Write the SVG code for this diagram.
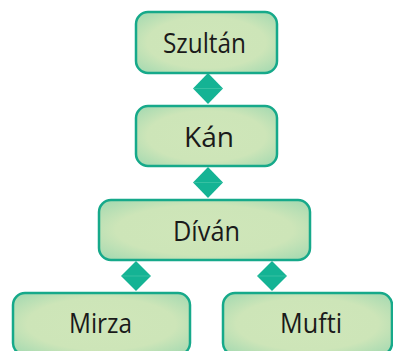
<svg xmlns="http://www.w3.org/2000/svg" width="393" height="351" viewBox="0 0 393 351">
<defs>
<radialGradient id="g" cx="50%" cy="50%" r="70%">
<stop offset="0" stop-color="#cfe6b9"/>
<stop offset="0.6" stop-color="#cde5b8"/>
<stop offset="1" stop-color="#a0d8b0"/>
</radialGradient>
<style>
.box{fill:url(#g);stroke:#16a98a;stroke-width:2.5}
.lbl{font-family:"Open Sans","Noto Sans",sans-serif;font-size:27px;fill:#1a1a1a;text-anchor:middle}
.dia{fill:#14b394}
.dl{stroke:#3fc4a6;stroke-width:0.8}
</style>
</defs>
<g id="connectors">
<path class="dia" d="M208 73 L223 88.5 L208 104 L193 88.5 Z"/>
<line class="dl" x1="194" y1="88.5" x2="222" y2="88.5"/>
<path class="dia" d="M208 167 L223 182.5 L208 198 L193 182.5 Z"/>
<line class="dl" x1="194" y1="182.5" x2="222" y2="182.5"/>
<path class="dia" d="M136 261 L151 276 L136 291 L121 276 Z"/>
<line class="dl" x1="122" y1="276" x2="150" y2="276"/>
<path class="dia" d="M272 261 L287 276 L272 291 L257 276 Z"/>
<line class="dl" x1="258" y1="276" x2="286" y2="276"/>
</g>
<g id="szultan">
<rect class="box" x="136" y="12" width="141" height="61" rx="12"/>
<text class="lbl" x="204.5" y="53" textLength="83" lengthAdjust="spacingAndGlyphs">Szultán</text>
</g>
<g id="kan">
<rect class="box" x="136" y="106" width="141" height="60" rx="12"/>
<text class="lbl" x="209" y="147" textLength="50" lengthAdjust="spacingAndGlyphs">Kán</text>
</g>
<g id="divan">
<rect class="box" x="99" y="200" width="211" height="60" rx="12"/>
<text class="lbl" x="206.5" y="241" textLength="67" lengthAdjust="spacingAndGlyphs">Díván</text>
</g>
<g id="mirza">
<rect class="box" x="13" y="293" width="177" height="62" rx="12"/>
<text class="lbl" x="100.5" y="333" textLength="63" lengthAdjust="spacingAndGlyphs">Mirza</text>
</g>
<g id="mufti">
<rect class="box" x="223" y="293" width="169" height="62" rx="12"/>
<text class="lbl" x="311" y="333" textLength="62" lengthAdjust="spacingAndGlyphs">Mufti</text>
</g>
</svg>
